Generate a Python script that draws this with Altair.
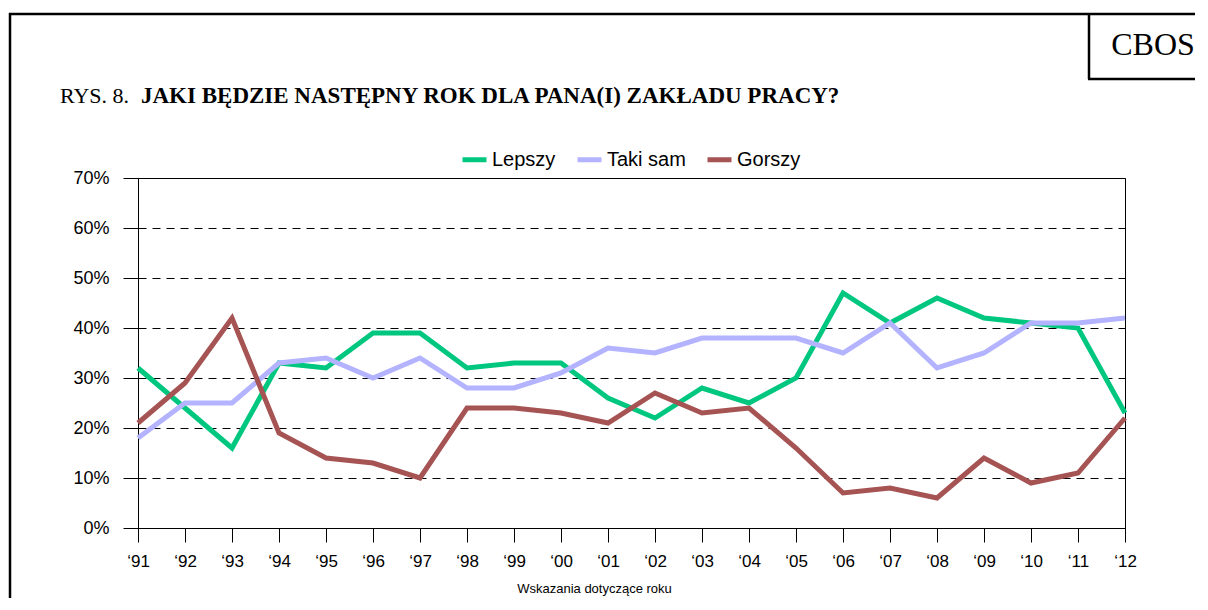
import altair as alt
import pandas as pd

# ---- data ----
years = ["‘91", "‘92", "‘93", "‘94", "‘95", "‘96", "‘97", "‘98", "‘99", "‘00", "‘01",
         "‘02", "‘03", "‘04", "‘05", "‘06", "‘07", "‘08", "‘09", "‘10", "‘11", "‘12"]
lepszy = [32, 24, 16, 33, 32, 39, 39, 32, 33, 33, 26, 22, 28, 25, 30, 47, 41, 46, 42, 41, 40, 23]
taki_sam = [18, 25, 25, 33, 34, 30, 34, 28, 28, 31, 36, 35, 38, 38, 38, 35, 41, 32, 35, 41, 41, 42]
gorszy = [21, 29, 42, 19, 14, 13, 10, 24, 24, 23, 21, 27, 23, 24, 16, 7, 8, 6, 14, 9, 11, 22]
series = ["Lepszy", "Taki sam", "Gorszy"]
colors = ["#00C77F", "#B3B3FF", "#A65353"]
y_ticks = [0, 0.1, 0.2, 0.3, 0.4, 0.5, 0.6, 0.7]

title_prefix = "RYS. 8."
title_main = "JAKI BĘDZIE NASTĘPNY ROK DLA PANA(I) ZAKŁADU PRACY?"
x_title = "Wskazania dotyczące roku"
brand = "CBOS"

rows = []
for name, vals in zip(series, [lepszy, taki_sam, gorszy]):
    for i, (yr, v) in enumerate(zip(years, vals)):
        rows.append({"rok": yr, "seria": name, "wartosc": v / 100, "kolejnosc": i})
df = pd.DataFrame(rows)

SANS = "Liberation Sans"
SERIF = "Liberation Serif"

lines = alt.Chart(df).mark_line(strokeWidth=5).encode(
    x=alt.X(
        "rok:N",
        sort=years,
        scale=alt.Scale(type="point", padding=0),
        axis=alt.Axis(
            title=x_title,
            titleFont=SANS,
            titleFontSize=13,
            titleFontWeight="normal",
            titleColor="black",
            titleX=456,
            titleY=64,
            titleAlign="center",
            titleBaseline="alphabetic",
            labelAngle=0,
            labelFont=SANS,
            labelFontSize=17,
            labelColor="black",
            labelPadding=11,
            tickSize=14,
            tickColor="black",
            domainColor="black",
            grid=False,
        ),
    ),
    y=alt.Y(
        "wartosc:Q",
        title=None,
        scale=alt.Scale(domain=[0, 0.7], nice=False),
        axis=alt.Axis(
            values=y_ticks,
            format=".0%",
            labelFont=SANS,
            labelFontSize=18,
            labelColor="black",
            labelPadding=14,
            tickSize=15,
            tickColor="black",
            domainColor="black",
            grid=True,
            gridColor="black",
            gridDash=[8, 6],
            gridWidth=1,
            gridOpacity=1,
        ),
    ),
    color=alt.Color(
        "seria:N",
        title=None,
        sort=series,
        scale=alt.Scale(domain=series, range=colors),
        legend=alt.Legend(
            orient="none",
            legendX=322,
            legendY=-33,
            direction="horizontal",
            symbolType="stroke",
            symbolStrokeWidth=5,
            symbolSize=576,
            labelFont=SANS,
            labelFontSize=20,
            labelColor="black",
            labelOffset=3,
            columnPadding=11,
            padding=0,
            labelLimit=300,
        ),
    ),
    order=alt.Order("kolejnosc:Q"),
)

one = pd.DataFrame({"a": [0]})


def hrule(x1, x2, y, w):
    return alt.Chart(one).mark_rule(color="black", strokeWidth=w).encode(
        x=alt.value(x1), x2=alt.value(x2), y=alt.value(y)
    )


def vrule(x, y1, y2, w):
    return alt.Chart(one).mark_rule(color="black", strokeWidth=w).encode(
        x=alt.value(x), y=alt.value(y1), y2=alt.value(y2)
    )


frame = [
    hrule(-129, 1075, -164, 2.5),
    vrule(-128, -165, 440, 2.5),
    vrule(951, -165, -99, 2.5),
    hrule(950, 1075, -99, 2.5),
]

brand_text = alt.Chart(one).mark_text(
    text=brand, font=SERIF, fontSize=32, align="center", baseline="alphabetic", color="black"
).encode(x=alt.value(1015), y=alt.value(-123))

title_a = alt.Chart(one).mark_text(
    text=title_prefix, font=SERIF, fontSize=22, align="left", baseline="alphabetic", color="black"
).encode(x=alt.value(-78), y=alt.value(-75))

title_b = alt.Chart(one).mark_text(
    text=title_main, font=SERIF, fontSize=23, fontWeight="bold", align="left",
    baseline="alphabetic", color="black"
).encode(x=alt.value(3), y=alt.value(-75))

chart = alt.layer(lines, *frame, brand_text, title_a, title_b).properties(
    width=987,
    height=350,
    autosize=alt.AutoSizeParams(type="none"),
    padding={"left": 130, "top": 170, "right": 70, "bottom": 70},
    background="white",
).configure_view(stroke="black", strokeWidth=1)

chart.save("out.html", embed_options={"renderer": "svg", "actions": False})
